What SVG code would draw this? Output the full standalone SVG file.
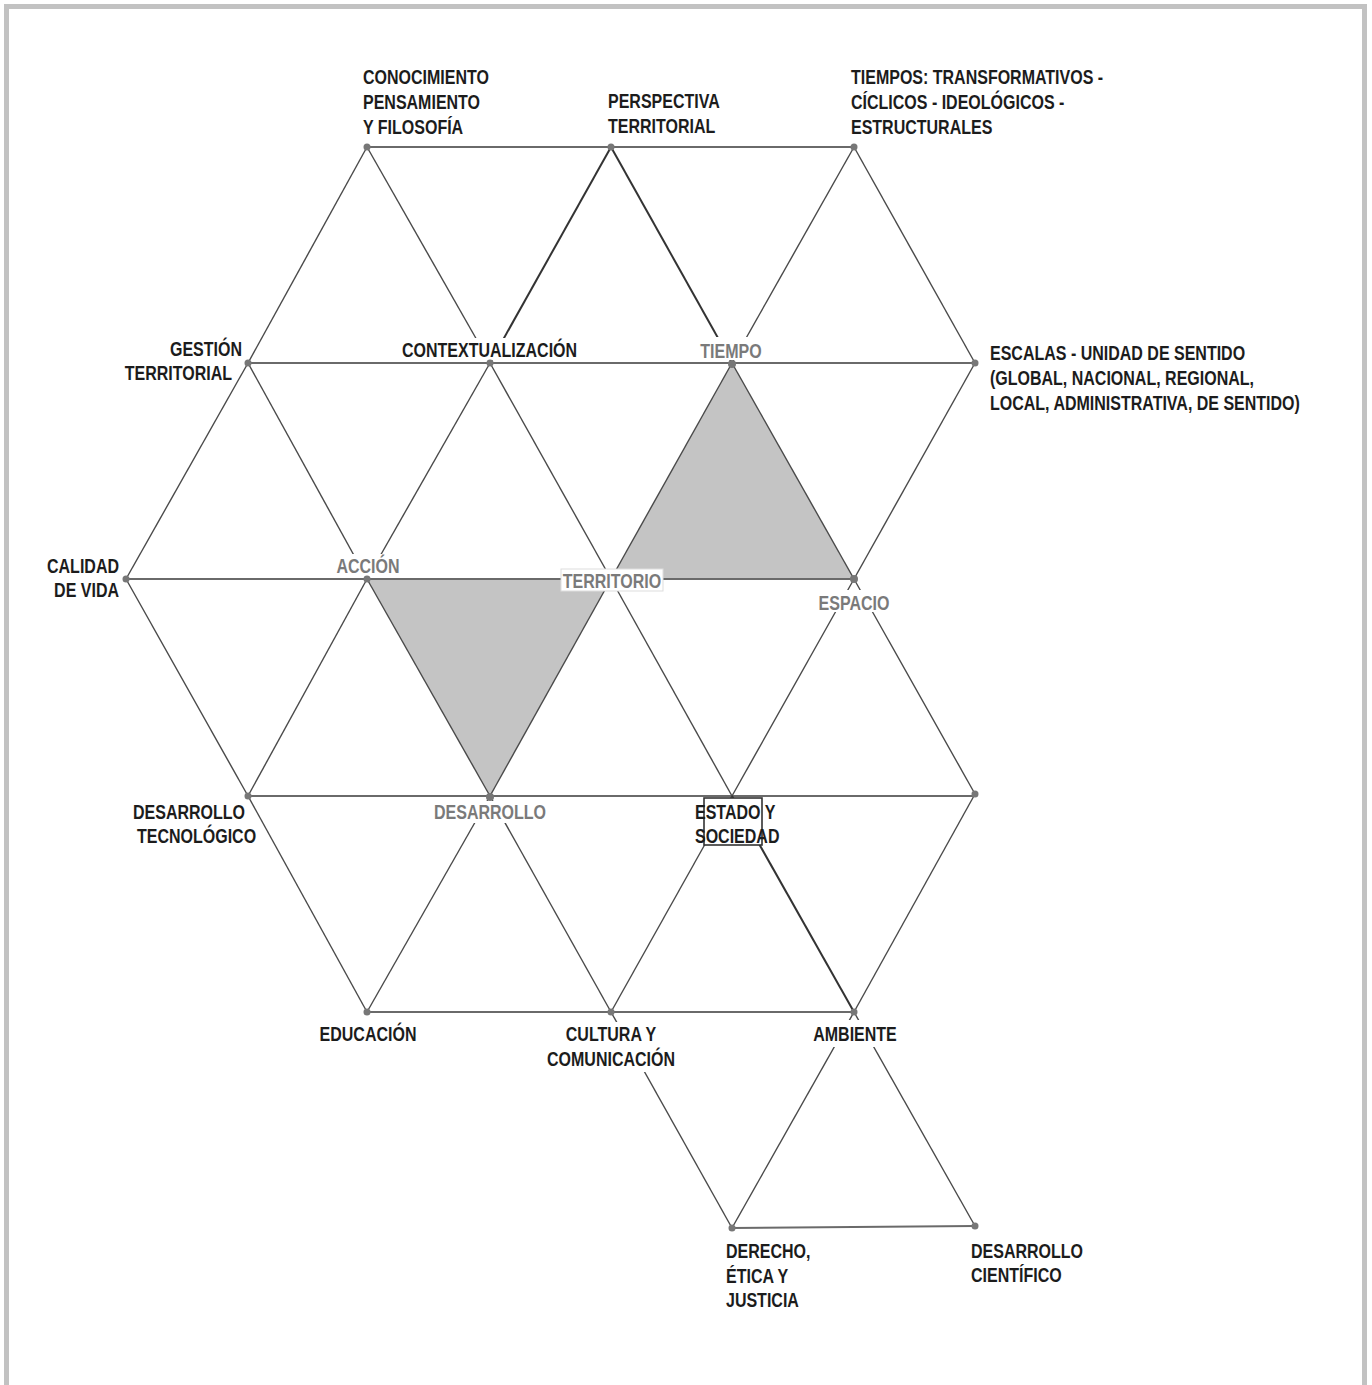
<svg xmlns="http://www.w3.org/2000/svg" width="1372" height="1385" viewBox="0 0 1372 1385">
<style>
.frame{fill:#ffffff;stroke:#c2c2c2;stroke-width:5}
.shade{fill:#c4c4c4;stroke:none}
.h{stroke:#6a6a6a;stroke-width:2.2;fill:none}
.d{stroke:#4a4a4a;stroke-width:1.4;fill:none}
.dk{stroke:#333333;stroke-width:2;fill:none}
.dot{fill:#777777}
.bg{fill:#ffffff;stroke:none}
text{font-family:"Liberation Sans",Arial,sans-serif;font-weight:bold;font-size:20px}
.k{fill:#1c1c1c}
.g{fill:#7a7a7a}
</style>
<rect class="frame" x="6.5" y="6.5" width="1358" height="1420"/>
<g id="shading">
<polygon class="shade" points="732,363 611,579 854,579"/>
<polygon class="shade" points="367,579 611,579 490,796"/>
</g>
<g id="connectors">
<path class="h" d="M367,147 H854"/>
<path class="h" d="M248,363 H975"/>
<path class="h" d="M126,579 H854"/>
<path class="h" d="M248,796 H975"/>
<path class="h" d="M367,1012 H854"/>
<path class="h" d="M732,1228 L975,1226"/>
<line class="d" x1="367" y1="147" x2="248" y2="363"/>
<line class="d" x1="367" y1="147" x2="490" y2="363"/>
<line class="dk" x1="611" y1="147" x2="490" y2="363"/>
<line class="dk" x1="611" y1="147" x2="732" y2="363"/>
<line class="d" x1="854" y1="147" x2="732" y2="363"/>
<line class="d" x1="854" y1="147" x2="975" y2="363"/>
<line class="d" x1="248" y1="363" x2="126" y2="579"/>
<line class="d" x1="248" y1="363" x2="367" y2="579"/>
<line class="d" x1="490" y1="363" x2="367" y2="579"/>
<line class="d" x1="490" y1="363" x2="611" y2="579"/>
<line class="d" x1="732" y1="363" x2="611" y2="579"/>
<line class="d" x1="732" y1="363" x2="854" y2="579"/>
<line class="d" x1="975" y1="363" x2="854" y2="579"/>
<line class="d" x1="126" y1="579" x2="248" y2="796"/>
<line class="d" x1="367" y1="579" x2="248" y2="796"/>
<line class="d" x1="367" y1="579" x2="490" y2="796"/>
<line class="d" x1="611" y1="579" x2="490" y2="796"/>
<line class="d" x1="611" y1="579" x2="732" y2="796"/>
<line class="d" x1="854" y1="579" x2="732" y2="796"/>
<line class="d" x1="854" y1="579" x2="975" y2="794"/>
<line class="d" x1="248" y1="796" x2="367" y2="1012"/>
<line class="d" x1="490" y1="796" x2="367" y2="1012"/>
<line class="d" x1="490" y1="796" x2="611" y2="1012"/>
<line class="d" x1="732" y1="796" x2="611" y2="1012"/>
<line class="dk" x1="732" y1="796" x2="854" y2="1012"/>
<line class="d" x1="975" y1="794" x2="854" y2="1012"/>
<line class="d" x1="611" y1="1012" x2="732" y2="1228"/>
<line class="d" x1="854" y1="1012" x2="732" y2="1228"/>
<line class="d" x1="854" y1="1012" x2="975" y2="1226"/>
</g>
<g id="n-conocimiento">
<circle class="dot" cx="367" cy="147" r="3.5"/>
<g transform="translate(363,0) scale(0.8,1)"><text class="k" x="0" y="84">CONOCIMIENTO</text><text class="k" x="0" y="109">PENSAMIENTO</text><text class="k" x="0" y="134">Y FILOSOFÍA</text></g>
</g>
<g id="n-perspectiva">
<circle class="dot" cx="611" cy="147" r="3.5"/>
<g transform="translate(608,0) scale(0.8,1)"><text class="k" x="0" y="108">PERSPECTIVA</text><text class="k" x="0" y="133">TERRITORIAL</text></g>
</g>
<g id="n-tiempos">
<circle class="dot" cx="854" cy="147" r="3.5"/>
<g transform="translate(851,0) scale(0.8,1)"><text class="k" x="0" y="84">TIEMPOS: TRANSFORMATIVOS -</text><text class="k" x="0" y="109">CÍCLICOS - IDEOLÓGICOS -</text><text class="k" x="0" y="134">ESTRUCTURALES</text></g>
</g>
<g id="n-gestion">
<circle class="dot" cx="248" cy="363" r="3.5"/>
<g transform="translate(242,0) scale(0.8,1)"><text class="k" x="0" y="356" text-anchor="end">GESTIÓN</text></g>
<g transform="translate(232,0) scale(0.8,1)"><text class="k" x="0" y="380" text-anchor="end">TERRITORIAL</text></g>
</g>
<g id="n-contextualizacion">
<rect class="bg" x="398" y="338" width="184" height="22"/>
<circle class="dot" cx="490" cy="363" r="3.5"/>
<g transform="translate(402,0) scale(0.8,1)"><text class="k" x="0" y="357">CONTEXTUALIZACIÓN</text></g>
</g>
<g id="n-tiempo">
<rect class="bg" x="697" y="337" width="69" height="23"/>
<circle class="dot" cx="732" cy="364" r="4"/>
<g transform="translate(731,0) scale(0.8,1)"><text class="g" x="0" y="358" text-anchor="middle">TIEMPO</text></g>
</g>
<g id="n-escalas">
<circle class="dot" cx="975" cy="363" r="3.5"/>
<g transform="translate(990,0) scale(0.8,1)"><text class="k" x="0" y="360">ESCALAS - UNIDAD DE SENTIDO</text><text class="k" x="0" y="385">(GLOBAL, NACIONAL, REGIONAL,</text><text class="k" x="0" y="410">LOCAL, ADMINISTRATIVA, DE SENTIDO)</text></g>
</g>
<g id="n-calidad">
<circle class="dot" cx="126" cy="579" r="3.5"/>
<g transform="translate(119,0) scale(0.8,1)"><text class="k" x="0" y="573" text-anchor="end">CALIDAD</text><text class="k" x="0" y="597" text-anchor="end">DE VIDA</text></g>
</g>
<g id="n-accion">
<rect class="bg" x="334" y="554" width="68" height="22"/>
<circle class="dot" cx="367" cy="579" r="3.5"/>
<g transform="translate(368,0) scale(0.8,1)"><text class="g" x="0" y="573" text-anchor="middle">ACCIÓN</text></g>
</g>
<g id="n-territorio">
<rect x="561" y="569" width="102" height="22" fill="#ffffff" stroke="#dddddd" stroke-width="1"/>
<g transform="translate(612,0) scale(0.8,1)"><text class="g" x="0" y="588" text-anchor="middle">TERRITORIO</text></g>
</g>
<g id="n-espacio">
<rect class="bg" x="817" y="590" width="76" height="22"/>
<circle class="dot" cx="854" cy="579" r="4"/>
<g transform="translate(854,0) scale(0.8,1)"><text class="g" x="0" y="610" text-anchor="middle">ESPACIO</text></g>
</g>
<g id="n-desarrollo-tec">
<circle class="dot" cx="248" cy="796" r="3.5"/>
<g transform="translate(133,0) scale(0.8,1)"><text class="k" x="0" y="819">DESARROLLO</text></g>
<g transform="translate(137,0) scale(0.8,1)"><text class="k" x="0" y="843">TECNOLÓGICO</text></g>
</g>
<g id="n-desarrollo">
<rect class="bg" x="433" y="801" width="115" height="22"/>
<circle class="dot" cx="490" cy="797" r="4"/>
<g transform="translate(490,0) scale(0.8,1)"><text class="g" x="0" y="819" text-anchor="middle">DESARROLLO</text></g>
</g>
<g id="n-estado">
<rect x="704" y="798" width="58" height="47" fill="#ffffff" stroke="#333333" stroke-width="1.6"/>
<g transform="translate(695,0) scale(0.8,1)"><text class="k" x="0" y="819">ESTADO Y</text><text class="k" x="0" y="843">SOCIEDAD</text></g>
</g>
<g id="n-o">
<circle class="dot" cx="975" cy="794" r="3.5"/>
</g>
<g id="n-educacion">
<circle class="dot" cx="367" cy="1012" r="3.5"/>
<g transform="translate(368,0) scale(0.8,1)"><text class="k" x="0" y="1041" text-anchor="middle">EDUCACIÓN</text></g>
</g>
<g id="n-cultura">
<rect class="bg" x="543" y="1022" width="138" height="50"/>
<circle class="dot" cx="611" cy="1012" r="3.5"/>
<g transform="translate(611,0) scale(0.8,1)"><text class="k" x="0" y="1041" text-anchor="middle">CULTURA Y</text><text class="k" x="0" y="1066" text-anchor="middle">COMUNICACIÓN</text></g>
</g>
<g id="n-ambiente">
<rect class="bg" x="808" y="1020" width="94" height="27"/>
<circle class="dot" cx="854" cy="1012" r="3.5"/>
<g transform="translate(855,0) scale(0.8,1)"><text class="k" x="0" y="1041" text-anchor="middle">AMBIENTE</text></g>
</g>
<g id="n-derecho">
<circle class="dot" cx="732" cy="1228" r="3.5"/>
<g transform="translate(726,0) scale(0.8,1)"><text class="k" x="0" y="1258">DERECHO,</text><text class="k" x="0" y="1283">ÉTICA Y</text><text class="k" x="0" y="1307">JUSTICIA</text></g>
</g>
<g id="n-desarrollo-cient">
<circle class="dot" cx="975" cy="1226" r="3.5"/>
<g transform="translate(971,0) scale(0.8,1)"><text class="k" x="0" y="1258">DESARROLLO</text><text class="k" x="0" y="1282">CIENTÍFICO</text></g>
</g>
</svg>
